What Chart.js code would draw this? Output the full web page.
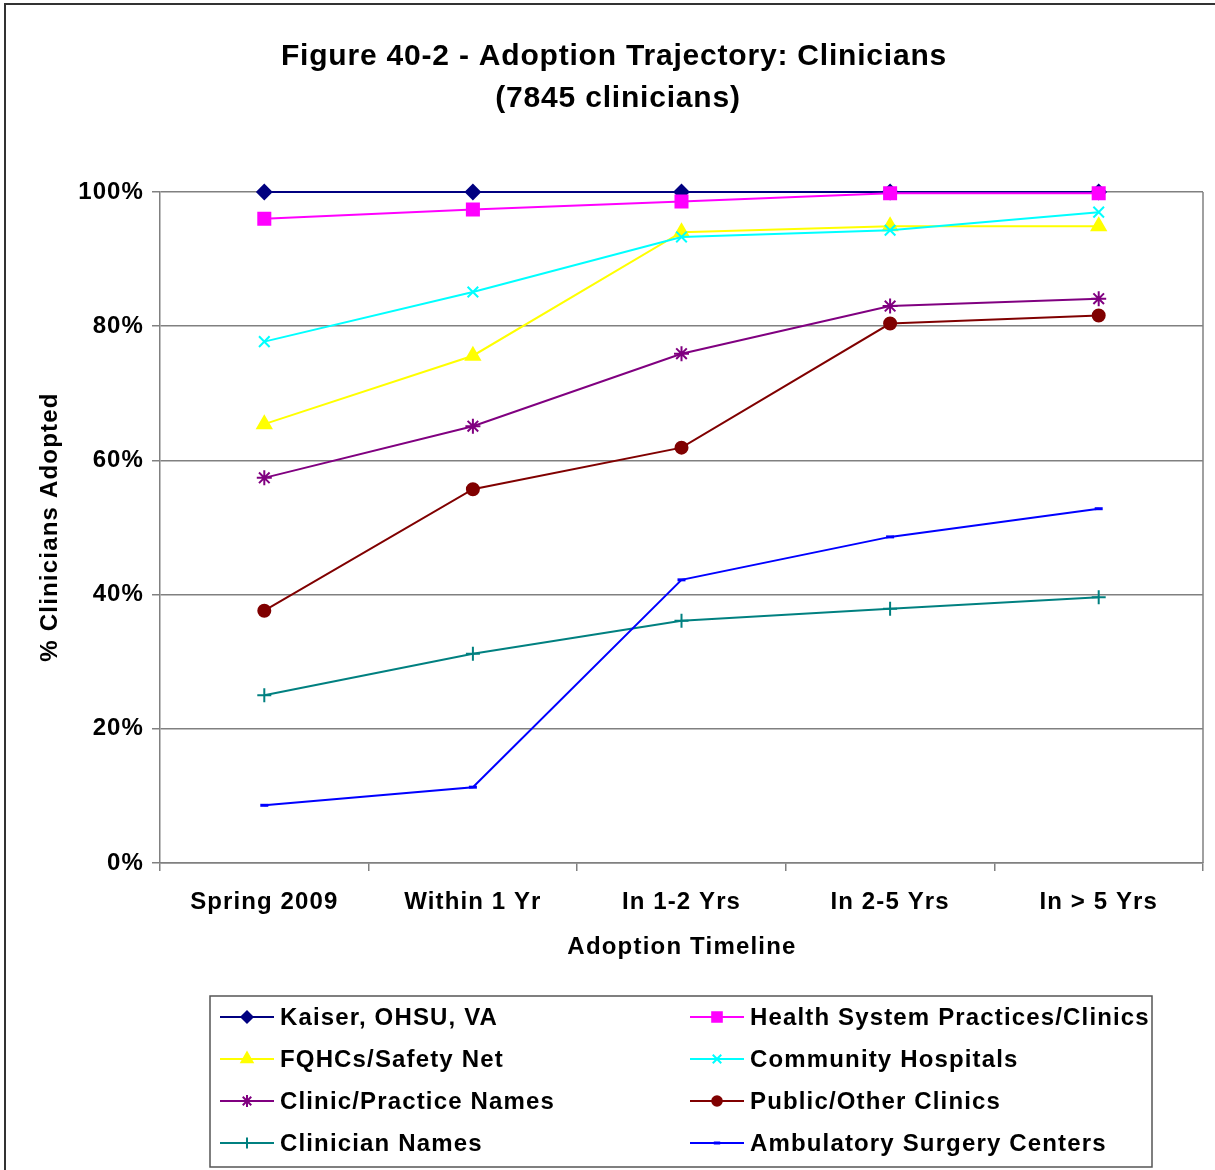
<!DOCTYPE html>
<html>
<head>
<meta charset="utf-8">
<script src="https://cdn.jsdelivr.net/npm/chart.js@4.4.1/dist/chart.umd.min.js"></script>
<style>
  html, body { margin: 0; padding: 0; background: #fff; }
  #wrap { width: 1215px; height: 1170px; position: relative; }
</style>
</head>
<body>
<div id="wrap"><canvas id="chartAdopsi" width="1215" height="1170"></canvas></div>
<script>
// Data
const timeline = ['Spring 2009', 'Within 1 Yr', 'In 1-2 Yrs', 'In 2-5 Yrs', 'In > 5 Yrs'];
const kaiser = [100, 100, 100, 100, 100];
const healthSystem = [96.0, 97.4, 98.6, 99.8, 99.8];
const fqhc = [65.4, 75.6, 94.0, 94.9, 94.9];
const community = [77.7, 85.1, 93.3, 94.3, 97.0];
const clinicPractice = [57.4, 65.1, 75.9, 83.0, 84.1];
const publicOther = [37.6, 55.7, 61.9, 80.4, 81.6];
const clinicianNames = [25.0, 31.2, 36.1, 37.9, 39.6];
const ambulatory = [8.6, 11.3, 42.2, 48.6, 52.8];
const yTicks = [0, 20, 40, 60, 80, 100];

const FONT = '"Liberation Sans", Arial, sans-serif';

function seri(label, data, color, style, radius) {
  return {
    label: label,
    data: data,
    borderColor: color,
    backgroundColor: color,
    pointBackgroundColor: color,
    pointBorderColor: color,
    pointStyle: style,
    pointRadius: radius,
    pointBorderWidth: style === 'line' ? 3 : 2,
    borderWidth: 2,
    tension: 0,
    fill: false,
    clip: false
  };
}

const datasets = [
  seri('Kaiser, OHSU, VA', kaiser, '#000080', 'rectRot', 7),
  seri('Health System Practices/Clinics', healthSystem, '#FF00FF', 'rect', 8.5),
  seri('FQHCs/Safety Net', fqhc, '#FFFF00', 'triangle', 8),
  seri('Community Hospitals', community, '#00FFFF', 'crossRot', 7.5),
  seri('Clinic/Practice Names', clinicPractice, '#800080', 'star', 7.5),
  seri('Public/Other Clinics', publicOther, '#800000', 'circle', 6),
  seri('Clinician Names', clinicianNames, '#008080', 'cross', 7),
  seri('Ambulatory Surgery Centers', ambulatory, '#0000FF', 'line', 4)
];
// seri belakangan digambar di atas (seperti Excel)
datasets.forEach((d, i) => { d.order = datasets.length - i; });

// Plugin: bingkai, judul, judul sumbu, legenda
const hiasan = {
  id: 'hiasan',
  beforeDraw(chart) {
    chart.ctx.letterSpacing = '1.1px';
  },
  afterDraw(chart) {
    const c = chart.ctx;
    const a = chart.chartArea;
    c.save();
    // bingkai luar
    c.strokeStyle = '#333';
    c.lineWidth = 2;
    c.beginPath();
    c.moveTo(5, 1170); c.lineTo(5, 4); c.lineTo(1215, 4);
    c.stroke();
    // garis kanan area plot
    c.strokeStyle = '#808080';
    c.lineWidth = 1.5;
    c.beginPath();
    c.moveTo(a.right, a.top); c.lineTo(a.right, a.bottom);
    c.stroke();

    // judul
    c.fillStyle = '#000';
    c.textAlign = 'center';
    c.textBaseline = 'middle';
    c.letterSpacing = '0.8px';
    c.font = 'bold 30px ' + FONT;
    c.fillText('Figure 40-2 - Adoption Trajectory: Clinicians', 614, 57);
    c.fillText('(7845 clinicians)', 618, 99);

    // judul sumbu
    c.letterSpacing = '1.2px';
    c.font = 'bold 24px ' + FONT;
    c.fillText('Adoption Timeline', 682, 947);
    c.save();
    c.translate(50, 527);
    c.rotate(-Math.PI / 2);
    c.fillText('% Clinicians Adopted', 0, 0);
    c.restore();

    // legenda
    c.strokeStyle = '#555';
    c.lineWidth = 1.5;
    c.strokeRect(210, 996, 942, 171);
    c.textAlign = 'left';
    chart.data.datasets.forEach((d, i) => {
      const x0 = i % 2 === 0 ? 220 : 690;
      const y = 1017 + Math.floor(i / 2) * 42;
      c.strokeStyle = d.borderColor;
      c.lineWidth = 2;
      c.beginPath();
      c.moveTo(x0, y); c.lineTo(x0 + 54, y);
      c.stroke();
      c.fillStyle = d.pointBackgroundColor;
      c.lineWidth = d.pointBorderWidth;
      Chart.helpers.drawPoint(c, { pointStyle: d.pointStyle, radius: d.pointRadius * 0.8, borderWidth: d.pointBorderWidth, rotation: 0 }, x0 + 27, y);
      c.fillStyle = '#000';
      c.letterSpacing = '1.15px';
      c.font = 'bold 24px ' + FONT;
      c.fillText(d.label, x0 + 60, y + 1);
    });
    c.restore();
  }
};

const ctx = document.getElementById('chartAdopsi').getContext('2d');
const chart = new Chart(ctx, {
  type: 'line',
  data: { labels: timeline, datasets: datasets },
  options: {
    responsive: false,
    animation: false,
    layout: { padding: { top: 192, right: 12, left: 0, bottom: 0 } },
    plugins: {
      legend: { display: false },
      title: { display: false },
      tooltip: { enabled: false }
    },
    scales: {
      x: {
        offset: true,
        afterFit: s => { s.height = 307; },
        grid: { offset: true, drawOnChartArea: false, color: '#808080', lineWidth: 1.5, tickLength: 8 },
        border: { color: '#808080', width: 1.5 },
        ticks: { color: '#000', font: { family: FONT, size: 24, weight: 'bold' }, padding: 17, maxRotation: 0 }
      },
      y: {
        min: 0,
        max: 100,
        afterFit: s => { s.width = 160; },
        afterBuildTicks: s => { s.ticks = yTicks.map(v => ({ value: v })); },
        grid: { color: '#808080', lineWidth: 1.5, tickLength: 8 },
        border: { color: '#808080', width: 1.5 },
        ticks: {
          color: '#000',
          font: { family: FONT, size: 24, weight: 'bold' },
          padding: 8,
          callback: v => v + '%'
        }
      }
    }
  },
  plugins: [hiasan]
});
</script>
</body>
</html>
